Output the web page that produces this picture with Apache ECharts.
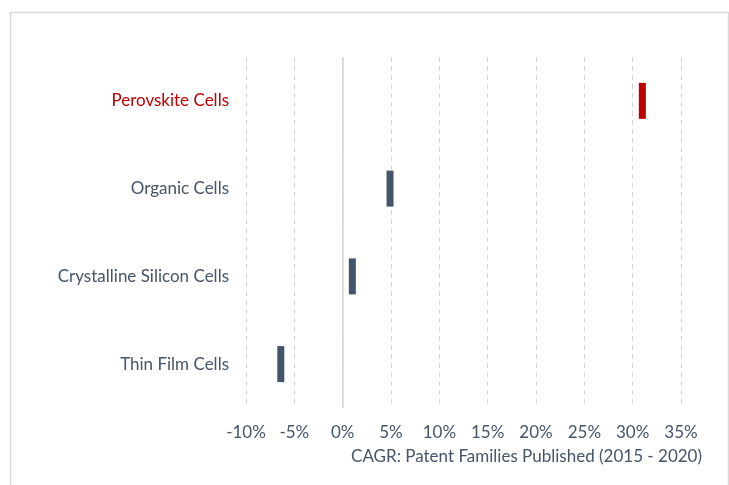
<!DOCTYPE html>
<html>
<head>
<meta charset="utf-8">
<script src="https://cdn.jsdelivr.net/npm/echarts@6/dist/echarts.min.js"></script>
<style>html,body{margin:0;padding:0;background:#fff;}#c{width:729px;height:485px;}</style>
</head>
<body>
<div id="c"></div>
<script>
var categories = ['Perovskite Cells', 'Organic Cells', 'Crystalline Silicon Cells', 'Thin Film Cells'];
var cagrValues = [31, 4.9, 1.0, -6.4];
var categoryColors = ['#C00000', '#44546A', '#44546A', '#44546A'];
var xTickMin = -10, xTickMax = 35, xTickStep = 5;
var axisTitle = 'CAGR: Patent Families Published (2015 - 2020)';

var FONT = 'Lato, "Open Sans", sans-serif';
var chart = echarts.init(document.getElementById('c'), null, {renderer: 'canvas'});
chart.setOption({
  animation: false,
  backgroundColor: '#ffffff',
  grid: {left: 246, right: 48, top: 57, bottom: 77, containLabel: false},
  xAxis: {
    type: 'value',
    min: xTickMin, max: xTickMax, interval: xTickStep,
    axisLine: {show: false},
    axisTick: {show: false},
    axisLabel: {formatter: '{value}%', color: '#44546A', fontFamily: FONT, fontSize: 17, margin: 16},
    splitLine: {show: true, lineStyle: {color: '#d6d6d6', type: [5, 4], width: 1}}
  },
  yAxis: {
    type: 'category',
    data: categories,
    inverse: true,
    axisLine: {show: false},
    axisTick: {show: false},
    splitLine: {show: false},
    axisLabel: {
      fontFamily: FONT, fontSize: 17, margin: 17,
      color: function (value, index) { return categoryColors[categories.indexOf(value)]; }
    }
  },
  graphic: [
    {type: 'rect', left: 8, top: 10, shape: {width: 718, height: 490},
     style: {fill: 'none', stroke: '#d9d9d9', lineWidth: 1.5}, silent: true, z: -1},
    {type: 'text', right: 27, top: 448,
     style: {text: axisTitle, fill: '#44546A', font: '17px ' + FONT, textAlign: 'right'}}
  ],
  series: [{
    type: 'scatter',
    symbol: 'rect',
    symbolSize: [7, 36],
    data: cagrValues.map(function (v, i) {
      return {value: [v, categories[i]], itemStyle: {color: categoryColors[i], opacity: 1}};
    }),
    markLine: {
      silent: true, symbol: 'none', label: {show: false},
      lineStyle: {color: '#d4d4d4', type: 'solid', width: 1.5},
      data: [{xAxis: 0}]
    },
    z: 5
  }]
});
</script>
</body>
</html>
